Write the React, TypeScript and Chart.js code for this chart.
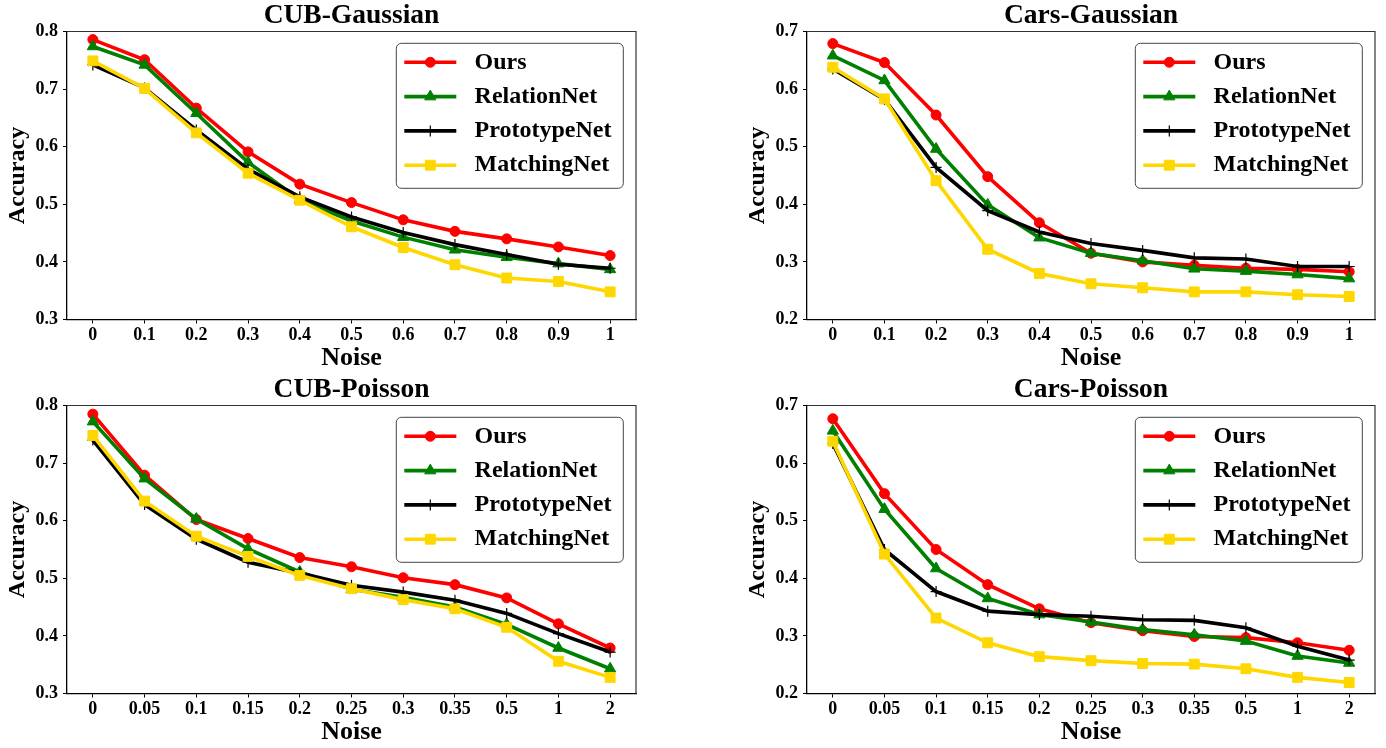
import React, { useEffect, useRef } from 'react';
import { Chart, registerables } from 'chart.js';

Chart.register(...registerables);

const FONT = "'Liberation Serif', 'Times New Roman', Times, serif";

// ---- categories ----
const gaussianNoise = ['0', '0.1', '0.2', '0.3', '0.4', '0.5', '0.6', '0.7', '0.8', '0.9', '1'];
const poissonNoise = ['0', '0.05', '0.1', '0.15', '0.2', '0.25', '0.3', '0.35', '0.5', '1', '2'];

// ---- series names ----
const seriesNames = ['Ours', 'RelationNet', 'PrototypeNet', 'MatchingNet'];

// ---- CUB-Gaussian ----
const cubGaussOurs = [0.786, 0.751, 0.667, 0.591, 0.535, 0.503, 0.473, 0.453, 0.440, 0.426, 0.411];
const cubGaussRelation = [0.774, 0.742, 0.658, 0.573, 0.508, 0.471, 0.443, 0.421, 0.408, 0.397, 0.387];
const cubGaussProto = [0.742, 0.702, 0.629, 0.561, 0.513, 0.478, 0.451, 0.430, 0.413, 0.396, 0.389];
const cubGaussMatch = [0.749, 0.701, 0.624, 0.554, 0.507, 0.461, 0.425, 0.395, 0.372, 0.366, 0.348];

// ---- Cars-Gaussian ----
const carsGaussOurs = [0.679, 0.646, 0.555, 0.448, 0.368, 0.315, 0.300, 0.294, 0.289, 0.287, 0.283];
const carsGaussRelation = [0.658, 0.615, 0.496, 0.399, 0.342, 0.315, 0.302, 0.288, 0.284, 0.278, 0.271];
const carsGaussProto = [0.635, 0.582, 0.464, 0.389, 0.352, 0.332, 0.320, 0.307, 0.305, 0.292, 0.292];
const carsGaussMatch = [0.638, 0.583, 0.441, 0.322, 0.280, 0.262, 0.255, 0.248, 0.248, 0.243, 0.240];

// ---- CUB-Poisson ----
const cubPoisOurs = [0.785, 0.679, 0.602, 0.569, 0.536, 0.520, 0.501, 0.489, 0.466, 0.421, 0.379];
const cubPoisRelation = [0.772, 0.673, 0.603, 0.551, 0.511, 0.481, 0.467, 0.450, 0.420, 0.379, 0.343];
const cubPoisProto = [0.740, 0.628, 0.568, 0.528, 0.509, 0.488, 0.476, 0.462, 0.439, 0.404, 0.372];
const cubPoisMatch = [0.748, 0.634, 0.573, 0.538, 0.505, 0.482, 0.463, 0.447, 0.415, 0.356, 0.328];

// ---- Cars-Poisson ----
const carsPoisOurs = [0.677, 0.547, 0.450, 0.389, 0.347, 0.323, 0.309, 0.299, 0.297, 0.288, 0.275];
const carsPoisRelation = [0.656, 0.520, 0.417, 0.365, 0.337, 0.324, 0.311, 0.302, 0.291, 0.265, 0.253];
const carsPoisProto = [0.634, 0.450, 0.377, 0.343, 0.337, 0.334, 0.328, 0.327, 0.314, 0.282, 0.258];
const carsPoisMatch = [0.638, 0.442, 0.331, 0.288, 0.264, 0.257, 0.252, 0.251, 0.243, 0.228, 0.219];

// ---- y ranges ----
const cubYRange = [0.3, 0.8];
const carsYRange = [0.2, 0.7];
const yStep = 0.1;

// ---- styles ----
const seriesColors = ['#ff0000', '#008000', '#000000', '#ffd700'];
const seriesMarkers = ['circle', 'triangle', 'cross', 'rect'];
const markerRadius = [5, 6.5, 5.5, 7];
const markerBorder = [1, 1, 1.2, 1];

type Panel = {
  title: string;
  labels: string[];
  series: number[][];
  yRange: number[];
  left: number;
  top: number;
  padLeft: number;
  padRight: number;
};

const PW = 693;
const PH = 374;

const panels: Panel[] = [
  { title: 'CUB-Gaussian', labels: gaussianNoise, series: [cubGaussOurs, cubGaussRelation, cubGaussProto, cubGaussMatch], yRange: cubYRange, left: 0, top: 0, padLeft: 0, padRight: 57 },
  { title: 'Cars-Gaussian', labels: gaussianNoise, series: [carsGaussOurs, carsGaussRelation, carsGaussProto, carsGaussMatch], yRange: carsYRange, left: PW, top: 0, padLeft: 47, padRight: 11 },
  { title: 'CUB-Poisson', labels: poissonNoise, series: [cubPoisOurs, cubPoisRelation, cubPoisProto, cubPoisMatch], yRange: cubYRange, left: 0, top: PH, padLeft: 0, padRight: 57 },
  { title: 'Cars-Poisson', labels: poissonNoise, series: [carsPoisOurs, carsPoisRelation, carsPoisProto, carsPoisMatch], yRange: carsYRange, left: PW, top: PH, padLeft: 47, padRight: 11 },
];

function drawMarker(ctx: CanvasRenderingContext2D, style: string, x: number, y: number, r: number, color: string, bw: number) {
  ctx.save();
  ctx.fillStyle = color;
  ctx.strokeStyle = color;
  ctx.lineWidth = bw;
  ctx.beginPath();
  if (style === 'circle') {
    ctx.arc(x, y, r, 0, Math.PI * 2);
    ctx.fill();
    ctx.stroke();
  } else if (style === 'triangle') {
    for (let k = 0; k < 3; k++) {
      const a = -Math.PI / 2 + (k * 2 * Math.PI) / 3;
      const px = x + Math.cos(a) * r;
      const py = y + Math.sin(a) * r;
      if (k === 0) ctx.moveTo(px, py);
      else ctx.lineTo(px, py);
    }
    ctx.closePath();
    ctx.fill();
    ctx.stroke();
  } else if (style === 'rect') {
    const s = r * Math.SQRT1_2;
    ctx.rect(x - s, y - s, 2 * s, 2 * s);
    ctx.fill();
    ctx.stroke();
  } else {
    ctx.moveTo(x - r, y);
    ctx.lineTo(x + r, y);
    ctx.moveTo(x, y - r);
    ctx.lineTo(x, y + r);
    ctx.stroke();
  }
  ctx.restore();
}

const framePlugin = {
  id: 'frameSpines',
  afterDatasetsDraw(chart: any) {
    const { ctx, chartArea } = chart;
    ctx.save();
    ctx.strokeStyle = '#333';
    ctx.lineWidth = 1.2;
    ctx.beginPath();
    ctx.moveTo(chartArea.left, chartArea.top);
    ctx.lineTo(chartArea.right, chartArea.top);
    ctx.lineTo(chartArea.right, chartArea.bottom);
    ctx.stroke();
    ctx.restore();
  },
};

const axesTitle = {
  id: 'axesTitle',
  afterDraw(chart: any, _args: any, opts: any) {
    const { ctx, chartArea } = chart;
    ctx.save();
    ctx.fillStyle = '#000';
    ctx.font = `bold 27.5px ${FONT}`;
    ctx.textAlign = 'center';
    ctx.textBaseline = 'middle';
    ctx.fillText(opts.text, (chartArea.left + chartArea.right) / 2, chartArea.top - 16);
    ctx.restore();
  },
};

const boxLegend = {
  id: 'boxLegend',
  afterDraw(chart: any) {
    const { ctx, chartArea } = chart;
    const w = 227;
    const h = 145;
    const x = chartArea.right - 12.7 - w;
    const y = chartArea.top + 11.8;
    ctx.save();
    ctx.beginPath();
    ctx.roundRect(x, y, w, h, 5);
    ctx.fillStyle = 'rgba(255,255,255,0.85)';
    ctx.fill();
    ctx.strokeStyle = '#444';
    ctx.lineWidth = 1;
    ctx.stroke();
    chart.data.datasets.forEach((ds: any, i: number) => {
      const cy = y + 19 + i * 34.3;
      ctx.strokeStyle = ds.borderColor;
      ctx.lineWidth = ds.borderWidth;
      ctx.beginPath();
      ctx.moveTo(x + 8, cy);
      ctx.lineTo(x + 60, cy);
      ctx.stroke();
      drawMarker(ctx, ds.pointStyle, x + 34, cy, ds.pointRadius, ds.borderColor, ds.pointBorderWidth);
      ctx.fillStyle = '#000';
      ctx.font = `bold 24px ${FONT}`;
      ctx.textBaseline = 'middle';
      ctx.textAlign = 'left';
      ctx.fillText(ds.label, x + 78.3, cy);
    });
    ctx.restore();
  },
};

function PanelChart({ panel }: { panel: Panel }) {
  const ref = useRef<HTMLCanvasElement | null>(null);
  useEffect(() => {
    if (!ref.current) return;
    const datasets = panel.series.map((vals, i) => ({
      label: seriesNames[i],
      data: vals,
      borderColor: seriesColors[i],
      backgroundColor: seriesColors[i],
      pointBackgroundColor: seriesColors[i],
      pointBorderColor: seriesColors[i],
      pointStyle: seriesMarkers[i],
      pointRadius: markerRadius[i],
      pointBorderWidth: markerBorder[i],
      borderWidth: 3.6,
      fill: false,
      tension: 0,
      order: 3 - i,
    }));
    const chart = new Chart(ref.current, {
      type: 'line',
      data: { labels: panel.labels, datasets },
      plugins: [framePlugin, boxLegend, axesTitle],
      options: {
        animation: false,
        responsive: false,
        devicePixelRatio: 1,
        layout: { padding: { left: panel.padLeft, right: panel.padRight, top: 31.5, bottom: 0 } },
        plugins: {
          legend: { display: false },
          tooltip: { enabled: false },
          title: { display: false },
          axesTitle: { text: panel.title },
        },
        scales: {
          x: {
            type: 'category',
            offset: true,
            grid: { display: true, drawOnChartArea: false, drawTicks: true, tickLength: 4, color: '#000', lineWidth: 1, offset: false },
            border: { display: true, color: '#000', width: 1.3 },
            ticks: { color: '#000', padding: 0.8, maxRotation: 0, autoSkip: false, font: { family: FONT, size: 18, weight: 'bold', lineHeight: 1.2 } },
            title: { display: true, text: 'Noise', color: '#000', font: { family: FONT, size: 26, weight: 'bold', lineHeight: 1.2 }, padding: { top: 0, bottom: 0.4 } },
            afterFit: (scale: any) => { scale.height = 54.5; },
          },
          y: {
            type: 'linear',
            min: panel.yRange[0],
            max: panel.yRange[1],
            grid: { display: true, drawOnChartArea: false, drawTicks: true, tickLength: 4, color: '#000', lineWidth: 1 },
            border: { display: true, color: '#000', width: 1.3 },
            ticks: {
              stepSize: yStep,
              color: '#000',
              padding: 5,
              font: { family: FONT, size: 18, weight: 'bold', lineHeight: 1.2 },
              callback: (v: any) => Number(v).toFixed(1),
            },
            title: { display: true, text: 'Accuracy', color: '#000', font: { family: FONT, size: 24, weight: 'bold', lineHeight: 1.2 }, padding: { top: 3.4, bottom: 0 } },
            afterFit: (scale: any) => { scale.width = 67; },
          },
        },
      } as any,
    });
    return () => chart.destroy();
  }, [panel]);
  return (
    <canvas
      ref={ref}
      width={PW}
      height={PH}
      style={{ position: 'absolute', left: panel.left, top: panel.top, width: PW, height: PH }}
    />
  );
}

export default function App() {
  return (
    <div style={{ position: 'absolute', left: 0, top: 0, width: 1386, height: 748, background: '#fff' }}>
      {panels.map((p) => (
        <PanelChart key={p.title} panel={p} />
      ))}
    </div>
  );
}
